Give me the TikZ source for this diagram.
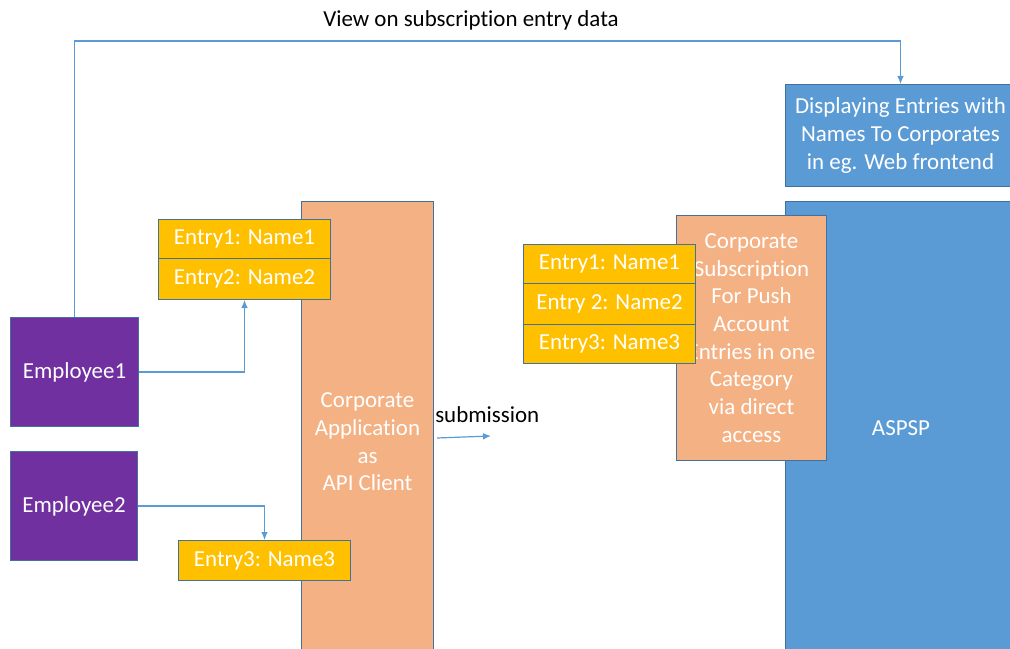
\documentclass[tikz,border=0pt]{standalone}
\usepackage{fontspec}
\setmainfont{Carlito}[Ligatures={NoCommon}]
\usetikzlibrary{arrows.meta}
\definecolor{bord}{HTML}{41719C}
\definecolor{lineblue}{HTML}{5B9BD5}
\definecolor{boxblue}{HTML}{5B9BD5}
\definecolor{peach}{HTML}{F4B183}
\definecolor{gold}{HTML}{FFC000}
\definecolor{purp}{HTML}{7030A0}

\tikzset{
  txt/.style={font=\fontsize{17.2}{20.8}\selectfont},
  shapebox/.style={draw=bord, line width=0.75pt, inner sep=0pt, anchor=north west,
    text=white, align=center, txt},
  sz/.style 2 args={minimum width=#1*0.75pt, minimum height=#2*0.75pt},
  entrybox/.style={shapebox, fill=gold},
  personbox/.style={shapebox, fill=purp},
  appbox/.style={shapebox, fill=peach},
  bankbox/.style={shapebox, fill=boxblue},
  whitetext/.style={txt, text=white, align=center, inner sep=0pt},
  blacktext/.style={txt, text=black, inner sep=0pt},
  conn/.style={draw=lineblue, line width=0.9pt, -{Latex[length=6pt,width=5pt]}}
}

\begin{document}
\begin{tikzpicture}[x=0.75pt,y=-0.75pt]
\clip (0,0) rectangle (1010,649);

% client side
\node[appbox, sz={132}{481}] (corpapp) at (301,201) {Corporate\\Application\\as\\API Client};
\node[entrybox, sz={172}{39}] (e1) at (158,219) {Entry1: Name1};
\node[entrybox, sz={172}{41}] (e2) at (158,258) {Entry2: Name2};
\node[entrybox, sz={172}{40}] (e3) at (178,540) {Entry3: Name3};
\node[personbox, sz={128}{109}] (emp1) at (10,317) {Employee1};
\node[personbox, sz={127}{109}] (emp2) at (10,451) {Employee2};

% bank side
\node[bankbox, sz={230}{460}] (aspsp) at (785,201) {};
\node[whitetext] (aspsplabel) at (901,428) {ASPSP};
\node[bankbox, sz={230}{102}] (disp) at (785,84) {Displaying Entries with\\Names To Corporates\\in eg. Web frontend};
\node[appbox, sz={150}{245}] (subs) at (676,215) {};
\node[whitetext] (substext) at (subs.center) {Corporate\\Subscription\\For Push\\Account\\Entries in one\\Category\\via direct\\access};
\node[entrybox, sz={172}{39}] (r1) at (523,244) {Entry1: Name1};
\node[entrybox, sz={172}{41}] (r2) at (523,283) {Entry 2: Name2};
\node[entrybox, sz={172}{39}] (r3) at (523,324) {Entry3: Name3};

% labels
\node[blacktext] (title) at (471,20) {View on subscription entry data};
\node[blacktext, anchor=west] (sublabel) at (435,415) {submission};

% connectors
\coordinate (topline) at (470,41);
\coordinate (subfrom) at (437,438);
\coordinate (subto) at (491,436);
\draw[conn] (emp1.north) |- (topline) -| (disp.north);
\draw[conn] (emp1.east) -| (e2.south);
\draw[conn] (emp2.east) -| (e3.north);
\draw[conn] (subfrom) -- (subto);
\end{tikzpicture}
\end{document}
